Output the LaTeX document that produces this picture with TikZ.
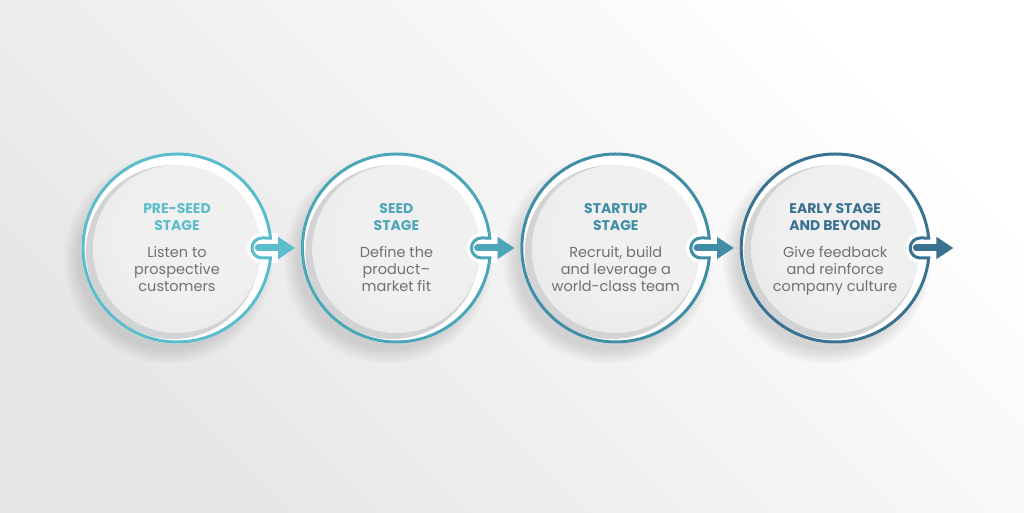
\documentclass[tikz,border=0pt]{standalone}
\usepackage{fontspec}
\setmainfont{Poppins}
\usetikzlibrary{positioning,shadows,arrows.meta}

\definecolor{bgleft}{HTML}{E6E6E6}
\definecolor{preseedcol}{HTML}{5BBCCB}
\definecolor{seedcol}{HTML}{4BA6B7}
\definecolor{startupcol}{HTML}{3F8DA6}
\definecolor{earlycol}{HTML}{3A7190}
\definecolor{bodycol}{HTML}{707173}
\definecolor{disclight}{HTML}{F0F0F0}
\definecolor{discedge}{HTML}{DFDFDF}
\definecolor{discdark}{HTML}{D2D3D5}
\pgfdeclareradialshading{discshade}{\pgfpoint{8bp}{8bp}}{color(0bp)=(disclight); color(20bp)=(disclight); color(50bp)=(discedge)}

\tikzset{stage/.style={circle,minimum size=191pt,inner sep=0pt,fill=white,
		circular drop shadow={shadow xshift=-8pt,shadow yshift=-10pt,shadow scale=1.1,opacity=.28}},
	stagetitle/.style={font=\bfseries\fontsize{14}{17}\selectfont,align=center,text=#1},
	stagetext/.style={font=\fontsize{14.5}{17}\selectfont,align=center,text=bodycol},
	stagearrow/.style={draw=#1,line width=7pt,line cap=round,-{Triangle[length=17pt,width=21pt]}},
	node distance=28pt}

% disc, notch and ring of one stage
\newcommand\stagering[2]{%
	\begin{scope}[shift={(#1.center)}]
		\fill[discdark] (-4,-4) circle (87);
		\shade[shading=discshade] (0,-1) circle (84);
		\fill[white,draw=white,line width=10pt] (96,-10) -- (85,-10) arc[start angle=270,end angle=90,radius=10] -- (96,10) -- cycle;
		\draw[#2,line width=3pt] (6.1:94) arc[start angle=6.1,end angle=353.9,radius=94] -- (85,-10) arc[start angle=270,end angle=90,radius=10] -- cycle;
	\end{scope}}

\begin{document}
\begin{tikzpicture}[x=1pt,y=1pt]
	\shade[top color=white,bottom color=bgleft,shading angle=-45] (0,0) rectangle (1024,513);
	\useasboundingbox (0,0) rectangle (1024,513);

	\node[stage] (stage1) at (177,265) {};
	\node[stage,right=of stage1] (stage2) {};
	\node[stage,right=of stage2] (stage3) {};
	\node[stage,right=of stage3] (stage4) {};
	\coordinate[right=22.5pt of stage4] (finish);

	\stagering{stage1}{preseedcol}
	\stagering{stage2}{seedcol}
	\stagering{stage3}{startupcol}
	\stagering{stage4}{earlycol}

	\draw[stagearrow=preseedcol] ([xshift=-14.5pt]stage1.east) -- ([xshift=-5.5pt]stage2.west);
	\draw[stagearrow=seedcol] ([xshift=-14.5pt]stage2.east) -- ([xshift=-5.5pt]stage3.west);
	\draw[stagearrow=startupcol] ([xshift=-14.5pt]stage3.east) -- ([xshift=-5.5pt]stage4.west);
	\draw[stagearrow=earlycol] ([xshift=-14.5pt]stage4.east) -- (finish);

	\node[stagetitle=preseedcol] (title1) at ([yshift=30.5pt]stage1.center) {PRE-SEED\\STAGE};
	\node[stagetext] (text1) at ([yshift=-23pt]stage1.center) {Listen to\\prospective\\customers\vphantom{g}};
	\node[stagetitle=seedcol] (title2) at ([yshift=30.5pt]stage2.center) {SEED\\STAGE};
	\node[stagetext] (text2) at ([yshift=-23pt]stage2.center) {Define the\\product–\\market fit\vphantom{g}};
	\node[stagetitle=startupcol] (title3) at ([yshift=30.5pt]stage3.center) {STARTUP\\STAGE};
	\node[stagetext] (text3) at ([yshift=-23pt]stage3.center) {Recruit, build\\and leverage a\\world-class team\vphantom{g}};
	\node[stagetitle=earlycol] (title4) at ([yshift=30.5pt]stage4.center) {EARLY STAGE\\AND BEYOND};
	\node[stagetext] (text4) at ([yshift=-23pt]stage4.center) {Give feedback\\and reinforce\\company culture};
\end{tikzpicture}
\end{document}
